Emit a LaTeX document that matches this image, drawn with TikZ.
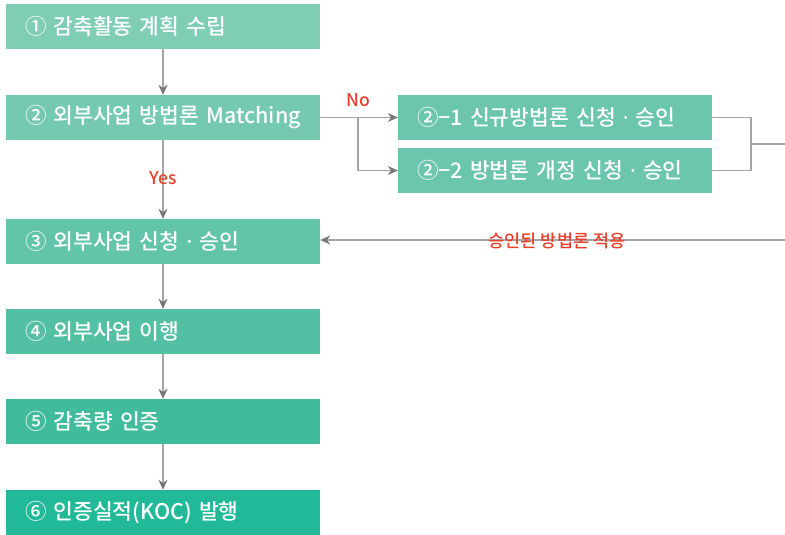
\documentclass[tikz,border=0pt]{standalone}
\usepackage{fontspec}
\setmainfont{Noto Sans CJK KR}[UprightFont=* Medium]
\newfontfamily\latfont{Noto Sans}
\newcommand{\mdot}{{\latfont ·}}
\usetikzlibrary{arrows.meta}
\definecolor{cA}{HTML}{7FCDB5}
\definecolor{cB}{HTML}{74C9B0}
\definecolor{cR}{HTML}{6CC6AD}
\definecolor{cC}{HTML}{62C4A9}
\definecolor{cD}{HTML}{54C0A3}
\definecolor{cE}{HTML}{40BC9C}
\definecolor{cF}{HTML}{22B998}
\definecolor{lgray}{HTML}{A5A5A5}
\definecolor{agray}{HTML}{767676}
\definecolor{lred}{HTML}{E8402A}
\tikzset{
  box/.style={rectangle, minimum width=314pt, minimum height=45pt, inner xsep=19pt, inner ysep=0pt,
    text width=276pt, align=left, text=white, font=\fontsize{21.5}{24}\selectfont},
  conn/.style={draw=lgray, line width=1.4pt},
  arr/.style={conn, -{Stealth[length=10pt,width=9pt,color=agray]}},
  lbl/.style={text=lred, font=\fontsize{17.5}{19}\selectfont, inner sep=1pt}
}
\begin{document}
\begin{tikzpicture}[x=1pt,y=-1pt]
\useasboundingbox (0,0) rectangle (785,535);
\node[box, fill=cA] (b1) at (163,26.5) {① 감축활동 계획 수립};
\node[box, fill=cB] (b2) at (163,117.5) {② 외부사업 방법론 Matching};
\node[box, fill=cC] (b3) at (163,241.5) {③ 외부사업 신청 \mdot{} 승인};
\node[box, fill=cD] (b4) at (163,331.5) {④ 외부사업 이행};
\node[box, fill=cE] (b5) at (163,421.5) {⑤ 감축량 인증};
\node[box, fill=cF] (b6) at (163,512.5) {⑥ 인증실적(KOC) 발행};
\node[box, fill=cR] (b21) at (555,117.5) {②−1 신규방법론 신청 \mdot{} 승인};
\node[box, fill=cR] (b22) at (555,170.5) {②−2 방법론 개정 신청 \mdot{} 승인};

\coordinate (split) at (358,117.5);
\coordinate (j1) at (751,117.5);
\coordinate (j2) at (751,170.5);
\coordinate (jm) at (751,144);
\coordinate (out) at (785,144);
\coordinate (ret) at (785,240);

\draw[arr] (b1.south) -- (b2.north);
\draw[arr] (b2.south) -- (b3.north);
\draw[arr] (b3.south) -- (b4.north);
\draw[arr] (b4.south) -- (b5.north);
\draw[arr] (b5.south) -- (b6.north);

\draw[conn] (b2.east) -- (split);
\draw[arr] (split) -- (b21.west);
\draw[arr] (split) |- (b22.west);

\draw[conn] (b21.east) -- (j1) -- (j2) -- (b22.east);
\draw[conn] (jm) -- (out);

\draw[arr] (ret) -- (b3.east |- ret);

\node[lbl] (no) at (358,100) {No};
\node[lbl] (yes) at (163,178) {Yes};
\node[lbl] (apply) at (557,241) {승인된 방법론 적용};
\end{tikzpicture}
\end{document}
